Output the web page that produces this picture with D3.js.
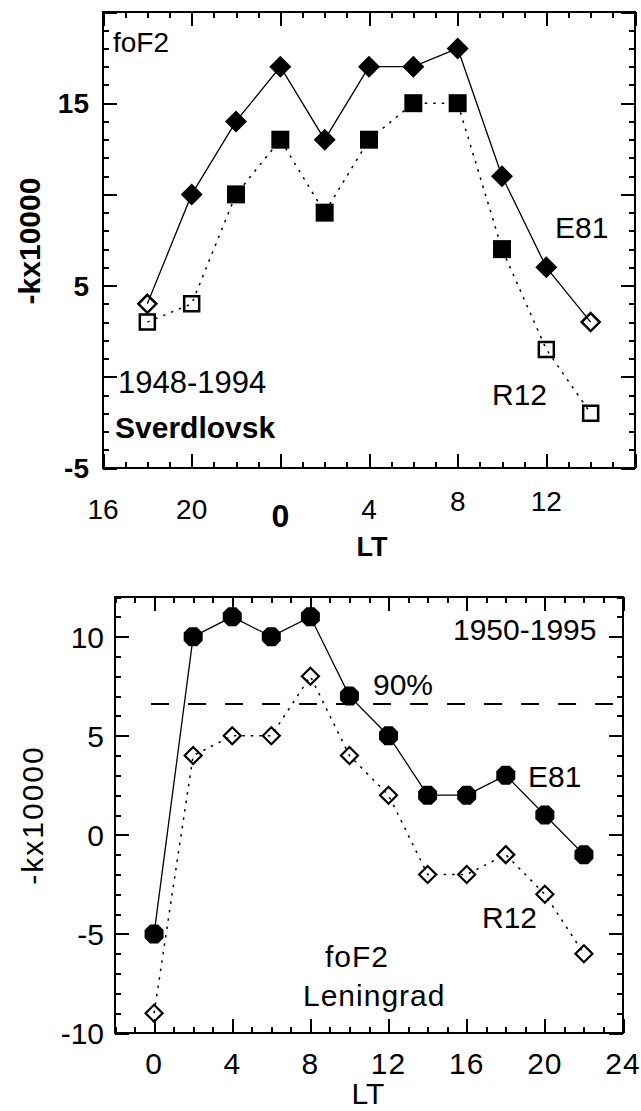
<!DOCTYPE html>
<html lang="en">
  <head>
      <meta charset="utf-8">
      <title>foF2 -k LT</title>
      <script type="text/javascript" src="https://cdn.jsdelivr.net/npm/d3@7"></script>
      <style type="text/css">
            body { margin: 0; background: #fff; }
            text { font-family: "Liberation Sans", Arial, sans-serif; fill: #000; }
            .axis line { stroke: #000; stroke-width: 2; shape-rendering: crispEdges; }
            .frame { fill: none; stroke: #000; stroke-width: 2; shape-rendering: crispEdges; }
            .solid { fill: none; stroke: #000; stroke-width: 1.3; }
            .dotted { fill: none; stroke: #000; stroke-width: 1.5; stroke-dasharray: 2.5,6; }
      </style>
  </head>
  <body>
      <script type="text/javascript">
        var w = 641;
        var h = 1111;

        // Sverdlovsk 1948-1994 (upper panel)
        var topLT = [18, 20, 22, 0, 2, 4, 6, 8, 10, 12, 14];
        var topE81 = [4, 10, 14, 17, 13, 17, 17, 18, 11, 6, 3];
        var topR12 = [3, 4, 10, 13, 9, 13, 15, 15, 7, 1.5, -2];
        var topE81Filled = [false, true, true, true, true, true, true, true, true, true, false];
        var topR12Filled = [false, false, true, true, true, true, true, true, true, false, false];
        var topXTicks = [16, 20, 24, 28, 32, 36, 40];
        var topXLabels = ["16", "20", "0", "4", "8", "12", ""];
        var topYTicks = [-5, 0, 5, 10, 15, 20];
        var topYLabels = ["-5", "", "5", "", "15", ""];

        // Leningrad 1950-1995 (lower panel)
        var botLT = [0, 2, 4, 6, 8, 10, 12, 14, 16, 18, 20, 22];
        var botE81 = [-5, 10, 11, 10, 11, 7, 5, 2, 2, 3, 1, -1];
        var botR12 = [-9, 4, 5, 5, 8, 4, 2, -2, -2, -1, -3, -6];
        var botLevel90 = 6.6;
        var botXTicks = [0, 4, 8, 12, 16, 20, 24];
        var botYTicks = [-10, -5, 0, 5, 10];

        var svg = d3.select("body")
              .append("svg")
              .attr("width", w)
              .attr("height", h);

        svg.append("rect").attr("width", w).attr("height", h).attr("fill", "#fff");

        function unwrap(t) { return t < 16 ? t + 24 : t; }

        function diamond(r) { return "M0," + (-r) + "L" + r + ",0L0," + r + "L" + (-r) + ",0Z"; }
        function square(r) { return "M" + (-r) + "," + (-r) + "H" + r + "V" + r + "H" + (-r) + "Z"; }
        function octagon(r) {
          var a = r * 0.42, p = [];
          p.push([-a, -r], [a, -r], [r, -a], [r, a], [a, r], [-a, r], [-r, a], [-r, -a]);
          return "M" + p.map(function(d) { return d.join(","); }).join("L") + "Z";
        }

        function frameAxes(g, x, y, xMajor, xMinor, yMajor, yMinor) {
          var x0 = x.range()[0], x1 = x.range()[1], y0 = y.range()[0], y1 = y.range()[1];
          g.append("g").attr("class", "axis").attr("transform", "translate(0," + y0 + ")")
            .call(d3.axisBottom(x).tickValues(xMinor).tickSize(-6).tickFormat(""));
          g.append("g").attr("class", "axis").attr("transform", "translate(0," + y0 + ")")
            .call(d3.axisBottom(x).tickValues(xMajor).tickSize(-14).tickFormat(""));
          g.append("g").attr("class", "axis").attr("transform", "translate(0," + y1 + ")")
            .call(d3.axisTop(x).tickValues(xMinor).tickSize(-6).tickFormat(""));
          g.append("g").attr("class", "axis").attr("transform", "translate(0," + y1 + ")")
            .call(d3.axisTop(x).tickValues(xMajor).tickSize(-14).tickFormat(""));
          g.append("g").attr("class", "axis").attr("transform", "translate(" + x0 + ",0)")
            .call(d3.axisLeft(y).tickValues(yMinor).tickSize(-6).tickFormat(""));
          g.append("g").attr("class", "axis").attr("transform", "translate(" + x0 + ",0)")
            .call(d3.axisLeft(y).tickValues(yMajor).tickSize(-14).tickFormat(""));
          g.append("g").attr("class", "axis").attr("transform", "translate(" + x1 + ",0)")
            .call(d3.axisRight(y).tickValues(yMinor).tickSize(-6).tickFormat(""));
          g.append("g").attr("class", "axis").attr("transform", "translate(" + x1 + ",0)")
            .call(d3.axisRight(y).tickValues(yMajor).tickSize(-14).tickFormat(""));
          g.selectAll(".domain").remove();
          g.append("rect").attr("class", "frame")
            .attr("x", x0).attr("y", y1).attr("width", x1 - x0).attr("height", y0 - y1);
        }

        // ---------- upper panel ----------
        var xTop = d3.scaleLinear().domain([16, 40]).range([103, 635]);
        var yTop = d3.scaleLinear().domain([-5, 20]).range([468, 12]);
        var gTop = svg.append("g");

        frameAxes(gTop, xTop, yTop, topXTicks, d3.range(16, 41), topYTicks, d3.range(-5, 21));

        gTop.selectAll(".xlab")
            .data(topXTicks)
            .enter()
            .append("text")
            .attr("class", "xlab")
            .attr("x", function(d) { return xTop(d); })
            .attr("y", function(d, i) { return i === 2 ? 527 : (i === 4 || i === 5 ? 511 : 519); })
            .attr("text-anchor", "middle")
            .style("font-size", function(d, i) { return i === 2 ? "32px" : "28px"; })
            .style("font-weight", function(d, i) { return i === 2 ? "bold" : "normal"; })
            .text(function(d, i) { return topXLabels[i]; });

        gTop.selectAll(".ylab")
            .data(topYTicks)
            .enter()
            .append("text")
            .attr("class", "ylab")
            .attr("x", 89)
            .attr("y", function(d) { return yTop(d) + 10; })
            .attr("text-anchor", "end")
            .style("font-size", "28px")
            .style("font-weight", "bold")
            .text(function(d, i) { return topYLabels[i]; });

        var lineTop = d3.line()
            .x(function(d, i) { return xTop(unwrap(topLT[i])); })
            .y(function(d) { return yTop(d); });

        gTop.append("path").datum(topR12).attr("class", "dotted").attr("d", lineTop);
        gTop.append("path").datum(topE81).attr("class", "solid").attr("d", lineTop);

        gTop.selectAll(".r12")
            .data(topR12)
            .enter()
            .append("path")
            .attr("class", "r12")
            .attr("transform", function(d, i) { return "translate(" + xTop(unwrap(topLT[i])) + "," + yTop(d) + ")"; })
            .attr("d", function(d, i) { return topR12Filled[i] ? square(9) : square(7.5); })
            .attr("fill", function(d, i) { return topR12Filled[i] ? "#000" : "none"; })
            .attr("stroke", "#000")
            .attr("stroke-width", function(d, i) { return topR12Filled[i] ? 0 : 2.5; });

        gTop.selectAll(".e81")
            .data(topE81)
            .enter()
            .append("path")
            .attr("class", "e81")
            .attr("transform", function(d, i) { return "translate(" + xTop(unwrap(topLT[i])) + "," + yTop(d) + ")"; })
            .attr("d", function(d, i) { return topE81Filled[i] ? diamond(11) : diamond(9); })
            .attr("fill", function(d, i) { return topE81Filled[i] ? "#000" : "none"; })
            .attr("stroke", "#000")
            .attr("stroke-width", function(d, i) { return topE81Filled[i] ? 0 : 2.5; });

        gTop.append("text").attr("x", 113).attr("y", 52).style("font-size", "28px").text("foF2");
        gTop.append("text").attr("x", 118).attr("y", 393).style("font-size", "31px").text("1948-1994");
        gTop.append("text").attr("x", 115).attr("y", 438).style("font-size", "30px").style("font-weight", "bold").text("Sverdlovsk");
        gTop.append("text").attr("x", 555).attr("y", 238).style("font-size", "30px").text("E81");
        gTop.append("text").attr("x", 492).attr("y", 405).style("font-size", "30px").text("R12");

        gTop.append("text")
            .attr("transform", "translate(40,241) rotate(-90)")
            .attr("text-anchor", "middle")
            .style("font-size", "30px")
            .style("font-weight", "bold")
            .text("-kx10000");

        gTop.append("text")
            .attr("x", 372).attr("y", 556)
            .attr("text-anchor", "middle")
            .style("font-size", "27px")
            .style("font-weight", "bold")
            .text("LT");

        // ---------- lower panel ----------
        var xBot = d3.scaleLinear().domain([-2, 24]).range([115, 623]);
        var yBot = d3.scaleLinear().domain([-10, 12]).range([1033, 597]);
        var gBot = svg.append("g");

        frameAxes(gBot, xBot, yBot, botXTicks, d3.range(-2, 25), botYTicks, d3.range(-10, 13));

        gBot.selectAll(".xlab")
            .data(botXTicks)
            .enter()
            .append("text")
            .attr("class", "xlab")
            .attr("x", function(d) { return xBot(d); })
            .attr("y", 1074)
            .attr("text-anchor", "middle")
            .style("font-size", "30px")
            .style("letter-spacing", "1px")
            .text(function(d) { return d; });

        gBot.selectAll(".ylab")
            .data(botYTicks)
            .enter()
            .append("text")
            .attr("class", "ylab")
            .attr("x", 104)
            .attr("y", function(d) { return yBot(d) + 11; })
            .attr("text-anchor", "end")
            .style("font-size", "30px")
            .text(function(d) { return d; });

        gBot.append("line")
            .attr("x1", xBot(0) - 3).attr("x2", xBot(24))
            .attr("y1", yBot(botLevel90)).attr("y2", yBot(botLevel90))
            .attr("stroke", "#000")
            .attr("stroke-width", 2)
            .attr("stroke-dasharray", "18,19");

        var lineBot = d3.line()
            .x(function(d, i) { return xBot(botLT[i]); })
            .y(function(d) { return yBot(d); });

        gBot.append("path").datum(botR12).attr("class", "dotted").attr("d", lineBot);
        gBot.append("path").datum(botE81).attr("class", "solid").attr("d", lineBot);

        gBot.selectAll(".r12")
            .data(botR12)
            .enter()
            .append("path")
            .attr("class", "r12")
            .attr("transform", function(d, i) { return "translate(" + xBot(botLT[i]) + "," + yBot(d) + ")"; })
            .attr("d", diamond(8.5))
            .attr("fill", "none")
            .attr("stroke", "#000")
            .attr("stroke-width", 2.2);

        gBot.selectAll(".e81")
            .data(botE81)
            .enter()
            .append("path")
            .attr("class", "e81")
            .attr("transform", function(d, i) { return "translate(" + xBot(botLT[i]) + "," + yBot(d) + ")"; })
            .attr("d", octagon(9.5))
            .attr("fill", "#000");

        gBot.append("text").attr("x", 453).attr("y", 640).style("font-size", "30px").text("1950-1995");
        gBot.append("text").attr("x", 373).attr("y", 695).style("font-size", "30px").text("90%");
        gBot.append("text").attr("x", 528).attr("y", 787).style("font-size", "30px").text("E81");
        gBot.append("text").attr("x", 482).attr("y", 928).style("font-size", "30px").text("R12");
        gBot.append("text").attr("x", 325).attr("y", 967).style("font-size", "30px").style("letter-spacing", "1px").text("foF2");
        gBot.append("text").attr("x", 303).attr("y", 1006).style("font-size", "30px").style("letter-spacing", "1px").text("Leningrad");

        gBot.append("text")
            .attr("transform", "translate(43,815) rotate(-90)")
            .attr("text-anchor", "middle")
            .style("font-size", "30px")
            .style("letter-spacing", "2px")
            .text("-kx10000");

        gBot.append("text")
            .attr("x", 368).attr("y", 1104)
            .attr("text-anchor", "middle")
            .style("font-size", "30px")
            .text("LT");
      </script>
  </body>
</html>
